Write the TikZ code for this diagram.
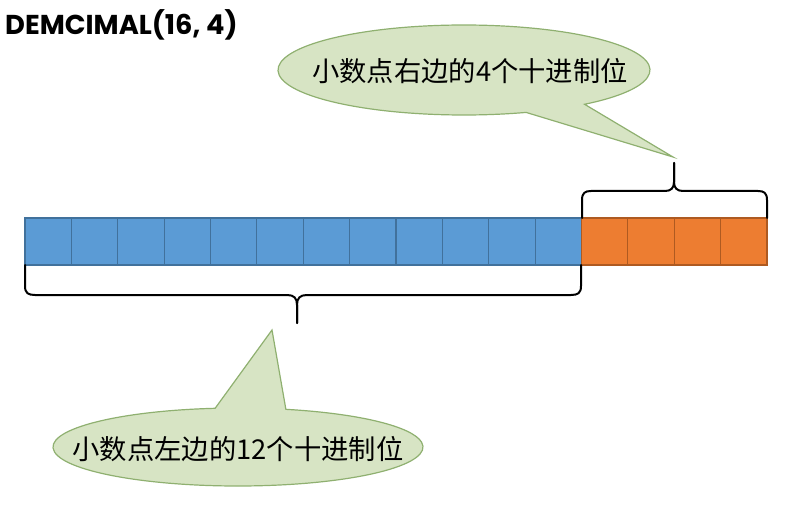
\documentclass[tikz,border=0pt]{standalone}
\usepackage{fontspec}
\newfontfamily\cjk{Noto Sans CJK SC}
\newfontfamily\titlefont{Poppins}
\definecolor{cellblue}{HTML}{5B9BD5}
\definecolor{cellblueline}{HTML}{41719C}
\definecolor{cellorange}{HTML}{ED7D31}
\definecolor{cellorangeline}{HTML}{AE5A21}
\definecolor{calloutfill}{HTML}{D7E4C4}
\definecolor{calloutline}{HTML}{8FB070}
\tikzset{
  bluecell/.style={draw=cellblueline, fill=cellblue, line width=1.1pt},
  orangecell/.style={draw=cellorangeline, fill=cellorange, line width=1.1pt},
  bracepath/.style={draw=black, line width=2pt, line cap=round, line join=round},
  callout/.style={draw=calloutline, fill=calloutfill, line width=1.2pt, line join=miter},
  callouttext/.style={font=\cjk\fontsize{27.3}{32}\selectfont, inner sep=0pt}
}
\begin{document}
\begin{tikzpicture}[x=1pt,y=1pt]
\useasboundingbox (0,0) rectangle (785,507);
% title
\node[anchor=base west, inner sep=0pt, font=\titlefont\bfseries\fontsize{27.3}{32}\selectfont] (title) at (5,472) {DEMCIMAL(16, 4)};
% cells
\foreach \i in {0,...,11} {
  \path[bluecell] ({25+\i*46.375},242) rectangle ({25+(\i+1)*46.375},289);
}
\foreach \i in {12,...,15} {
  \path[orangecell] ({25+\i*46.375},242) rectangle ({25+(\i+1)*46.375},289);
}
% brace tips
\coordinate (btip) at (297,184);
\coordinate (ttip) at (674,344);
% bottom brace
\draw[bracepath] (25,242) -- (25,221) .. controls (25,214) and (28,212) .. (35,212) -- (287,212) .. controls (294,212) and (297,209) .. (297,202) -- (btip);
\draw[bracepath] (btip) -- (297,202) .. controls (297,209) and (300,212) .. (307,212) -- (571,212) .. controls (578,212) and (581,214) .. (581,221) -- (581,242);
% top brace
\draw[bracepath] (582,289) -- (582,307) .. controls (582,314) and (585,316) .. (591,316) -- (665,316) .. controls (671,316) and (674,319) .. (674,325) -- (ttip);
\draw[bracepath] (ttip) -- (674,325) .. controls (674,319) and (677,316) .. (683,316) -- (758,316) .. controls (764,316) and (767,314) .. (767,307) -- (767,289);
% top callout
\coordinate (tpoint) at (673,350);
\path[callout] (464,437) ++(-49.6:186 and 45) arc[start angle=-49.6, end angle=289.5, x radius=186, y radius=45] -- (tpoint) -- cycle;
\node[callouttext] (toptext) at (470,436) {小数点右边的4个十进制位};
% bottom callout
\coordinate (bpoint) at (272,177);
\path[callout] (238,60) ++(97.1:185 and 39) arc[start angle=97.1, end angle=435, x radius=185, y radius=39] -- (bpoint) -- cycle;
\node[callouttext] (bottext) at (238,58) {小数点左边的12个十进制位};
\end{tikzpicture}
\end{document}
